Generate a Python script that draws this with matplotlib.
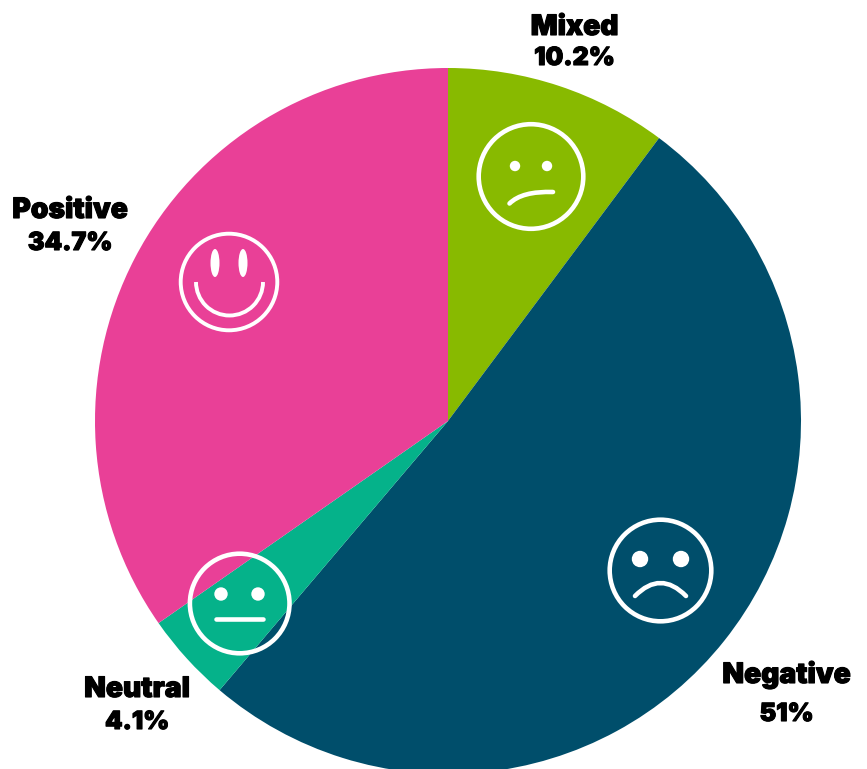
import matplotlib
matplotlib.use("Agg")
import matplotlib.pyplot as plt
import matplotlib.patheffects as pe
from matplotlib.patches import Circle, Ellipse, Arc, PathPatch
from matplotlib.path import Path

W = 867
H = 769

NAMES = ["Mixed", "Negative", "Neutral", "Positive"]
VALUES = [10.2, 51, 4.1, 34.7]
VALUE_TEXT = ["10.2%", "51%", "4.1%", "34.7%"]
COLORS = ["#88BA00", "#004E6B", "#05B28A", "#E94097"]
LABEL_X = [574.5, 786.5, 137, 70]
LABEL_BASE = [[35, 65], [683, 721], [697, 729], [218, 250]]

WHITE = "white"


def ring(ax, x, y, r, lw):
    ax.add_patch(Circle((x, y), r, fc="none", ec=WHITE, lw=lw))


def eye(ax, x, y, r):
    ax.add_patch(Circle((x, y), r, fc=WHITE, ec="none"))


def curve(ax, p0, p1, p2, lw):
    ax.add_patch(PathPatch(Path([p0, p1, p2], [Path.MOVETO, Path.CURVE3, Path.CURVE3]),
                           fc="none", ec=WHITE, lw=lw, capstyle="round"))


def main():
    fig = plt.figure(figsize=(W / 100, H / 100), dpi=100)
    ax = fig.add_axes([0, 0, 1, 1])
    # y goes down like the picture, so the pie runs counterclock=True
    ax.pie(VALUES, colors=COLORS, center=(448, 421), radius=353,
           startangle=-90, counterclock=True)
    ax.set_xlim(0, W)
    ax.set_ylim(H, 0)
    ax.axis("off")

    # mixed face
    ring(ax, 531, 176.5, 52.3, 3.3)
    eye(ax, 515, 166, 5.2)
    eye(ax, 547, 166, 5.2)
    curve(ax, (509.5, 203.5), (522, 191), (553, 192), 3.3)

    # negative face
    ring(ax, 660.5, 570.5, 50.8, 3.3)
    eye(ax, 640, 559, 8.2)
    eye(ax, 681, 559, 8.2)
    curve(ax, (635, 596), (660.5, 570), (686, 596), 3.3)

    # neutral face
    ring(ax, 239.7, 603.5, 49.8, 3.3)
    eye(ax, 221, 594, 6.7)
    eye(ax, 258, 594, 6.7)
    ax.plot([216, 263], [619, 619], color=WHITE, lw=3.3, solid_capstyle="round")

    # positive face
    ring(ax, 229, 282, 48.3, 2.8)
    ax.add_patch(Ellipse((215, 263), 9, 28, fc=WHITE, ec="none"))
    ax.add_patch(Ellipse((243, 263), 9, 28, fc=WHITE, ec="none"))
    ax.add_patch(Arc((229.5, 282), 67, 67, theta1=0, theta2=180, ec=WHITE, lw=2.8))

    for i in range(len(NAMES)):
        # names run wider than the numbers in the original font
        for txt, y, size in zip([NAMES[i], VALUE_TEXT[i]], LABEL_BASE[i], [20.3, 18]):
            t = ax.text(LABEL_X[i], y, txt, ha="center", va="baseline", color="black",
                        fontsize=size, family="Inter", weight=900)
            t.set_path_effects([pe.withStroke(linewidth=0.8, foreground="black")])

    plt.savefig("out.png", dpi=100)


if __name__ == '__main__':
    main()
